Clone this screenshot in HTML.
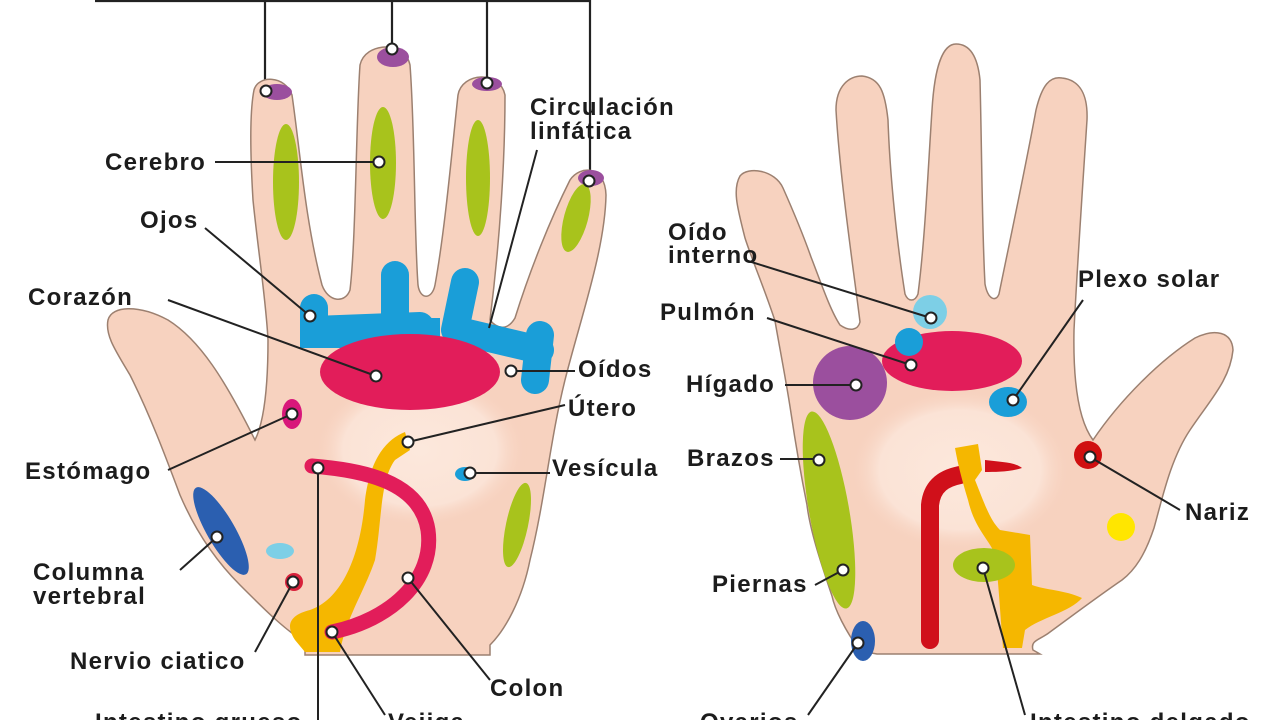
<!DOCTYPE html>
<html><head><meta charset="utf-8"><style>
html,body{margin:0;padding:0;background:#fff;width:1280px;height:720px;overflow:hidden}
svg text{font-family:"Liberation Sans",sans-serif;font-weight:bold;font-size:24px;letter-spacing:1.3px;fill:#1c1c1c}
</style></head><body>
<svg width="1280" height="720" viewBox="0 0 1280 720" xmlns="http://www.w3.org/2000/svg">
<defs>
<radialGradient id="pl" cx="0.5" cy="0.5" r="0.5">
<stop offset="0" stop-color="#fce8dc"/><stop offset="0.7" stop-color="#fbe3d6"/><stop offset="1" stop-color="#f6cdb9" stop-opacity="0"/>
</radialGradient>
</defs>
<g stroke="#222" stroke-width="2.2" fill="none">
<path d="M95,1 H590"/>
<path d="M265,0 V91"/><path d="M392,0 V49"/><path d="M487,0 V84"/><path d="M590,0 V180"/>
</g>
<!-- LEFT HAND -->
<path d="M305,655 L305,642 C285,630 265,610 240,585 C215,560 195,530 180,495 C165,455 150,415 130,375 C115,350 105,335 108,320 C112,305 140,305 168,320 C200,340 225,380 255,440 C265,420 268,380 268,340 C266,300 258,250 253,200 C250,150 250,110 254,90 C258,75 285,75 292,95 C300,150 305,220 322,285 C328,302 345,304 350,290 C356,240 356,120 360,65 C365,42 405,40 410,65 C415,130 414,230 418,285 C420,300 432,300 435,285 C445,230 452,150 458,95 C462,72 500,70 505,95 C505,160 500,240 490,320 C498,330 508,330 515,318 C530,270 550,220 570,180 C580,165 605,165 606,195 C605,250 580,320 565,380 C550,440 545,500 530,560 C522,600 505,630 490,645 L490,655 Z" fill="#f7d2bf" stroke="#9c8070" stroke-width="1.5"/>
<ellipse cx="420" cy="450" rx="110" ry="80" fill="url(#pl)"/>
<g fill="#9b4f9e"><ellipse cx="277" cy="92" rx="15" ry="8"/><ellipse cx="393" cy="57" rx="16" ry="10"/><ellipse cx="487" cy="84" rx="15" ry="7"/><ellipse cx="591" cy="178" rx="13" ry="8"/></g>
<g fill="#a8c31c">
<ellipse cx="286" cy="182" rx="13" ry="58"/><ellipse cx="383" cy="163" rx="13" ry="56"/><ellipse cx="478" cy="178" rx="12" ry="58"/>
<ellipse cx="576" cy="218" rx="12" ry="35" transform="rotate(15 576 218)"/>
<ellipse cx="517" cy="525" rx="11" ry="43" transform="rotate(12 517 525)"/>
</g>
<g stroke="#1a9ed8" stroke-linecap="round" stroke-linejoin="round" fill="none" stroke-width="28">
<path d="M314,308 L314,330 L420,326"/>
<path d="M395,275 L395,330"/>
<path d="M465,282 L455,330 L540,350"/>
<path d="M540,335 L535,380"/>
</g>
<rect x="300" y="318" width="140" height="30" fill="#1a9ed8"/>
<ellipse cx="410" cy="372" rx="90" ry="38" fill="#e21d5a"/>
<ellipse cx="292" cy="414" rx="10" ry="15" fill="#d8177a"/>
<ellipse cx="465" cy="474" rx="10" ry="7" fill="#1a9ed8"/>
<ellipse cx="221" cy="531" rx="14" ry="50" transform="rotate(-30 221 531)" fill="#2b5fb0"/>
<ellipse cx="280" cy="551" rx="14" ry="8" fill="#7dcfe6"/>
<circle cx="294" cy="582" r="9" fill="#d8203a"/>
<path d="M405,432 C385,440 370,460 365,500 C360,560 340,600 310,610 C290,615 285,625 295,640 L305,652 L340,652 C345,620 365,590 375,560 C382,520 380,480 395,460 L410,450 Z" fill="#f5b700"/>
<path d="M312,466 C360,470 420,480 428,530 C435,580 390,620 332,632" stroke="#e21d5a" stroke-width="15" fill="none" stroke-linecap="round"/>
<!-- RIGHT HAND -->
<path d="M877,654 L860,651 C845,630 835,610 832,596 C820,560 810,530 807,505 C800,470 795,440 791,413 C786,380 780,350 775,321 C765,290 752,260 745,238 C738,210 732,190 740,176 C748,166 775,170 783,188 C795,215 805,240 811,257 C820,280 830,310 840,325 C850,332 858,330 860,322 C855,280 840,180 836,110 C836,85 850,76 862,76 C880,78 885,92 888,120 C890,180 898,250 905,294 C908,302 915,302 918,294 C925,240 928,170 932,110 C935,60 945,44 956,44 C972,44 978,60 980,80 C982,160 982,230 985,284 C988,300 996,302 999,294 C1010,240 1025,170 1036,110 C1042,85 1050,76 1062,78 C1080,80 1088,95 1087,120 C1083,180 1077,270 1074,330 C1073,380 1078,420 1093,440 C1120,400 1160,360 1195,338 C1215,328 1232,332 1233,350 C1230,380 1210,400 1190,430 C1170,460 1162,500 1154,528 C1145,555 1135,570 1122,580 C1100,595 1080,610 1050,632 C1040,640 1030,640 1033,650 L1040,654 Z" fill="#f7d2bf" stroke="#9c8070" stroke-width="1.5"/>
<ellipse cx="960" cy="470" rx="115" ry="85" fill="url(#pl)"/>
<ellipse cx="952" cy="361" rx="70" ry="30" fill="#e21d5a"/>
<circle cx="930" cy="312" r="17" fill="#7dcfe6"/>
<circle cx="909" cy="342" r="14" fill="#1a9ed8"/>
<circle cx="850" cy="383" r="37" fill="#9b4f9e"/>
<ellipse cx="1008" cy="402" rx="19" ry="15" fill="#1a9ed8"/>
<ellipse cx="829" cy="510" rx="20" ry="100" transform="rotate(-10 829 510)" fill="#a8c31c"/>
<ellipse cx="863" cy="641" rx="12" ry="20" fill="#2b5fb0"/>
<circle cx="1088" cy="455" r="14" fill="#d01010"/>
<circle cx="1121" cy="527" r="14" fill="#ffe600"/>
<path d="M930,640 L930,505 C932,485 945,478 960,475" stroke="#d0101a" stroke-width="18" fill="none" stroke-linecap="round"/>
<path d="M985,460 C1000,462 1015,462 1022,468 C1010,472 995,472 985,472 Z" fill="#d0101a"/>
<path d="M955,448 L978,444 L982,470 L975,480 C985,505 990,520 1000,530 L1030,535 L1032,585 C1045,590 1065,590 1082,598 C1070,612 1040,618 1025,630 L1022,648 L1003,648 C1000,610 998,575 995,555 C990,540 975,530 968,500 C962,480 958,465 955,448 Z" fill="#f5b700"/>
<ellipse cx="984" cy="565" rx="31" ry="17" fill="#a8c31c"/>
<g stroke="#222" stroke-width="2" fill="none">
<path d="M215,162 H379"/><path d="M205,228 L310,316"/><path d="M168,300 L376,376"/>
<path d="M168,470 L292,414"/><path d="M180,570 L217,537"/><path d="M255,652 L293,582"/>
<path d="M318,468 V720"/><path d="M332,632 L385,715"/><path d="M408,578 L490,680"/>
<path d="M470,473 H550"/><path d="M408,442 L565,405"/><path d="M511,371 H575"/>
<path d="M537,150 L489,328"/>
<path d="M745,260 L931,318"/><path d="M767,318 L911,365"/><path d="M785,385 H856"/>
<path d="M780,459 H819"/><path d="M815,585 L843,570"/><path d="M808,715 L858,643"/>
<path d="M1083,300 L1013,400"/><path d="M1090,457 L1180,510"/><path d="M983,568 L1025,715"/>
</g>
<g fill="#fff" stroke="#222" stroke-width="2">
<circle cx="266" cy="91" r="5.5"/><circle cx="392" cy="49" r="5.5"/><circle cx="487" cy="83" r="5.5"/><circle cx="589" cy="181" r="5.5"/>
<circle cx="379" cy="162" r="5.5"/><circle cx="310" cy="316" r="5.5"/><circle cx="376" cy="376" r="5.5"/><circle cx="511" cy="371" r="5.5"/>
<circle cx="292" cy="414" r="5.5"/><circle cx="408" cy="442" r="5.5"/><circle cx="318" cy="468" r="5.5"/><circle cx="470" cy="473" r="5.5"/>
<circle cx="217" cy="537" r="5.5"/><circle cx="293" cy="582" r="5.5"/><circle cx="408" cy="578" r="5.5"/><circle cx="332" cy="632" r="5.5"/>
<circle cx="931" cy="318" r="5.5"/><circle cx="911" cy="365" r="5.5"/><circle cx="856" cy="385" r="5.5"/><circle cx="1013" cy="400" r="5.5"/>
<circle cx="819" cy="460" r="5.5"/><circle cx="1090" cy="457" r="5.5"/><circle cx="843" cy="570" r="5.5"/><circle cx="983" cy="568" r="5.5"/><circle cx="858" cy="643" r="5.5"/>
</g>
<text x="105" y="170">Cerebro</text>
<text x="140" y="228">Ojos</text>
<text x="28" y="305">Corazón</text>
<text x="25" y="479">Estómago</text>
<text x="33" y="580">Columna</text><text x="33" y="604">vertebral</text>
<text x="70" y="669">Nervio ciatico</text>
<text x="95" y="730">Intestino grueso</text>
<text x="388" y="730">Vejiga</text>
<text x="490" y="696">Colon</text>
<text x="552" y="476">Vesícula</text>
<text x="568" y="416">Útero</text>
<text x="578" y="377">Oídos</text>
<text x="530" y="115">Circulación</text><text x="530" y="139">linfática</text>
<text x="668" y="240">Oído</text><text x="668" y="263">interno</text>
<text x="660" y="320">Pulmón</text>
<text x="686" y="392">Hígado</text>
<text x="687" y="466">Brazos</text>
<text x="712" y="592">Piernas</text>
<text x="700" y="730">Ovarios</text>
<text x="1078" y="287">Plexo solar</text>
<text x="1185" y="520">Nariz</text>
<text x="1030" y="730">Intestino delgado</text>
</svg>
</body></html>
